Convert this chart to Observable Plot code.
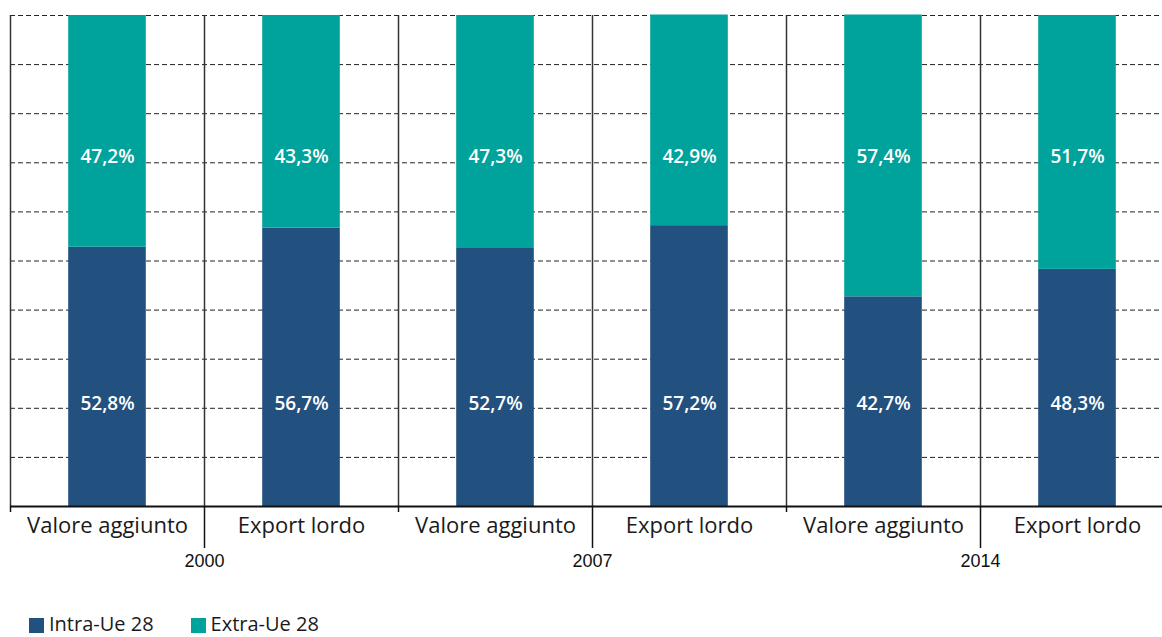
<!DOCTYPE html>
<html>
<head>
<meta charset="utf-8">
<script src="https://cdn.jsdelivr.net/npm/d3@7"></script>
<script src="https://cdn.jsdelivr.net/npm/@observablehq/plot@0.6"></script>
<style>
  html, body { margin: 0; padding: 0; background: #fff; overflow: hidden; }
  #wrap { position: relative; width: 1162px; height: 637px; font-family: "Open Sans", Lato, sans-serif; }
  #legend { position: absolute; left: 29px; top: 613px; display: flex; align-items: center; font-size: 20px; line-height: 22px; color: #1a1a1a; }
  .item { display: flex; align-items: center; margin-right: 37px; }
  .sw { width: 15px; height: 15px; margin-right: 5px; margin-top: 2px; }
</style>
</head>
<body>
<div id="wrap"></div>
<script>
// Data
const years = ["2000", "2007", "2014"];
const types = ["Valore aggiunto", "Export lordo"];
const series = ["Intra-Ue 28", "Extra-Ue 28"];
const intraValues = [52.8, 56.7, 52.7, 57.2, 42.7, 48.3];
const extraValues = [47.2, 43.3, 47.3, 42.9, 57.4, 51.7];
const colors = ["#22507F", "#00A29C"];
const gridTicks = [10, 20, 30, 40, 50, 60, 70, 80, 90, 100];

// Build categories
const categories = [];
years.forEach(y => types.forEach(t => categories.push({year: y, type: t})));
const rows = [];
categories.forEach((c, i) => {
  rows.push({i, series: series[0], value: intraValues[i]});
  rows.push({i, series: series[1], value: extraValues[i]});
});
const fmt = v => v.toFixed(1).replace(".", ",") + "%";
const n = categories.length;

const chart = Plot.plot({
  width: 1162,
  height: 600,
  marginTop: 15,
  marginBottom: 94,
  marginLeft: 10,
  marginRight: 0,
  style: {fontFamily: "'Open Sans', Lato, sans-serif", overflow: "visible"},
  x: {domain: [0, n], range: [10, 1174], axis: null},
  y: {domain: [0, 100], range: [506, 15], axis: null},
  color: {domain: series, range: colors},
  marks: [
    Plot.ruleY(gridTicks, {y: d => d, stroke: "#222", strokeWidth: 1, strokeDasharray: "5,3"}),
    Plot.ruleX(d3.range(0, n + 1), {x: d => d, y1: 0, y2: 100, stroke: "#333", strokeWidth: 1.5}),
    Plot.rectY(rows, {x1: d => d.i + 0.3, x2: d => d.i + 0.7, y: "value", fill: "series"}),
    Plot.text(rows, {
      x: d => d.i + 0.5,
      y: d => d.series === series[0] ? 20.8 : 71.1,
      text: d => fmt(d.value),
      fill: "white", fontWeight: 600, fontSize: 19
    }),
    Plot.ruleY([0], {stroke: "#111", strokeWidth: 2}),
    // short ticks at group edges
    Plot.axisX(d3.range(0, n + 1, 2), {tickSize: 6, tickFormat: () => "", stroke: "#111", strokeWidth: 1.5}),
    // long ticks between types with year labels
    Plot.axisX(d3.range(1, n, 2), {
      tickSize: 42, tickPadding: 6, stroke: "#111", strokeWidth: 1.5,
      tickFormat: d => years[(d - 1) / 2],
      fontSize: 18, fontFamily: "'Liberation Sans', Arial, sans-serif", fill: "#111"
    }),
    // category labels
    Plot.axisX(d3.range(0, n).map(i => i + 0.5), {
      tickSize: 0, tickPadding: 11,
      tickFormat: d => categories[Math.floor(d)].type,
      fontSize: 22, fill: "#1a1a1a"
    })
  ]
});
document.getElementById("wrap").appendChild(chart);

const legend = document.createElement("div");
legend.id = "legend";
series.forEach((s, k) => {
  const it = document.createElement("div");
  it.className = "item";
  const sw = document.createElement("div");
  sw.className = "sw";
  sw.style.background = colors[k];
  const lb = document.createElement("span");
  lb.textContent = s;
  it.appendChild(sw); it.appendChild(lb);
  legend.appendChild(it);
});
document.getElementById("wrap").appendChild(legend);
</script>
</body>
</html>
